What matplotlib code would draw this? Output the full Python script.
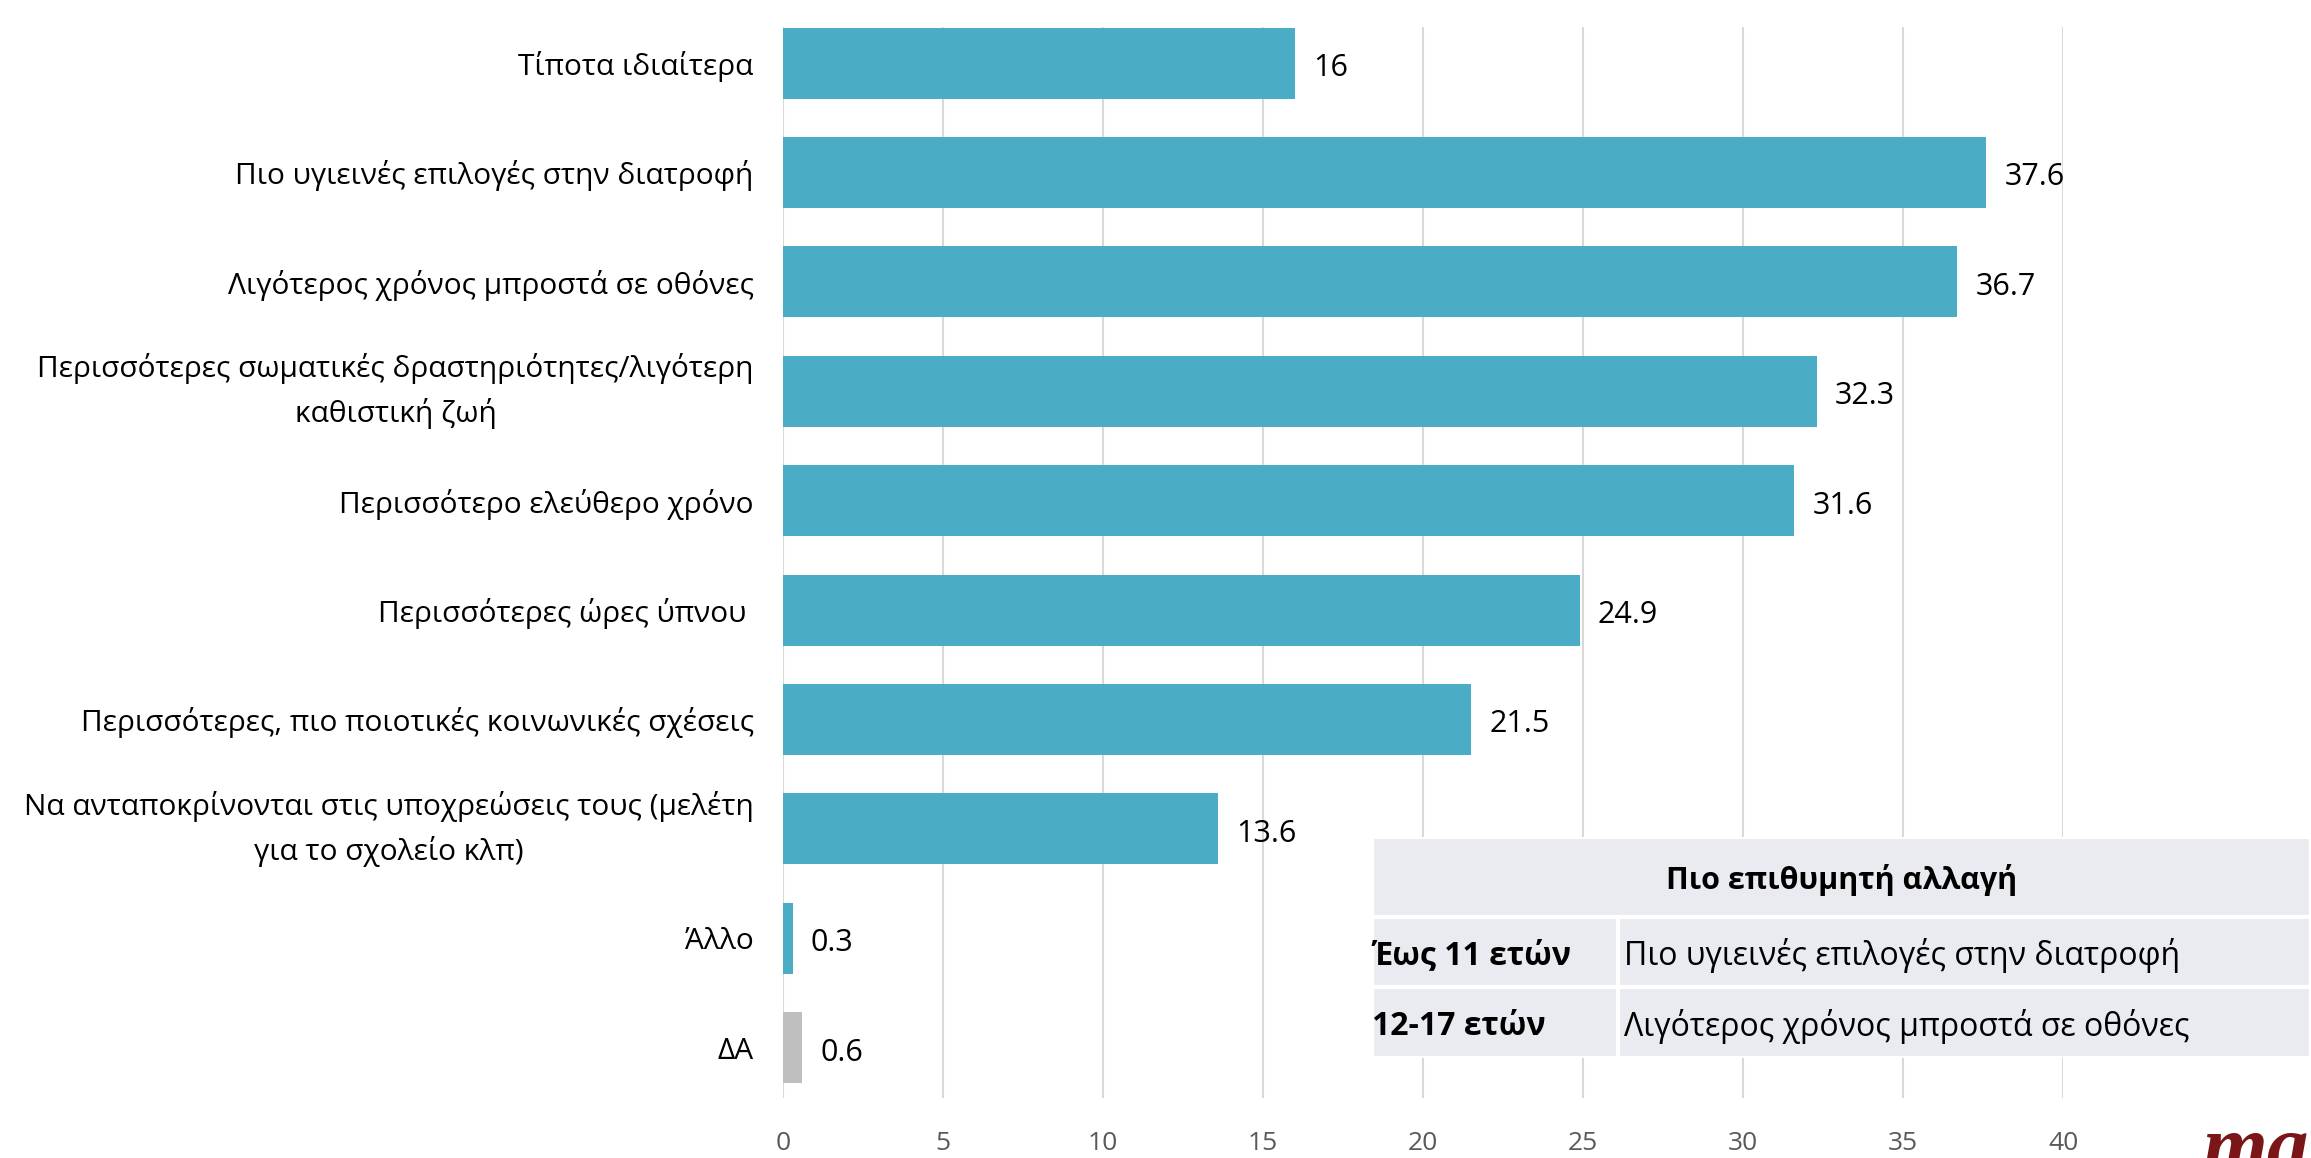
import matplotlib.pyplot as plt
from matplotlib.patches import Rectangle

plt.rcParams['font.family'] = ['Open Sans', 'DejaVu Sans']

categories = [
    'Τίποτα ιδιαίτερα',
    'Πιο υγιεινές επιλογές στην διατροφή',
    'Λιγότερος χρόνος μπροστά σε οθόνες',
    'Περισσότερες σωματικές δραστηριότητες/λιγότερη\nκαθιστική ζωή',
    'Περισσότερο ελεύθερο χρόνο',
    'Περισσότερες ώρες ύπνου ',
    'Περισσότερες, πιο ποιοτικές κοινωνικές σχέσεις',
    'Να ανταποκρίνονται στις υποχρεώσεις τους (μελέτη\nγια το σχολείο κλπ)',
    'Άλλο',
    'ΔΑ',
]
values = [16, 37.6, 36.7, 32.3, 31.6, 24.9, 21.5, 13.6, 0.3, 0.6]
bar_colors = ['#4BACC6'] * 9 + ['#BFBFBF']

table_header = 'Πιο επιθυμητή αλλαγή'
table_groups = ['Έως 11 ετών', '12-17 ετών']
table_answers = ['Πιο υγιεινές επιλογές στην διατροφή',
                 'Λιγότερος χρόνος μπροστά σε οθόνες']

fig = plt.figure(figsize=(23.11, 11.58), dpi=100)
ax = fig.add_axes([0.3388, 0.0518, 0.5539, 0.9249])

ypos = list(range(len(categories)))
ax.barh(ypos, values, height=0.65, color=bar_colors, zorder=2)
for i, v in enumerate(values):
    ax.annotate(f'{v:g}', (v, i), xytext=(13, -1), textcoords='offset points',
                va='center_baseline', ha='left', fontsize=22, color='black')

ax.set_xlim(0, 40)
ax.set_ylim(9.46, -0.33)
ax.set_xticks(range(0, 41, 5))
ax.set_yticks(ypos)
ax.set_yticklabels(categories, fontsize=21.5, linespacing=1.6)
for lab in ax.get_yticklabels():
    lab.set_multialignment('center')
    if '\n' in lab.get_text():
        lab.set_verticalalignment('center')
ax.tick_params(axis='y', length=0, pad=21)
ax.tick_params(axis='x', length=0, pad=24, labelsize=19, labelcolor='#595959')
ax.xaxis.grid(True, color='#D9D9D9', linewidth=1.5)
ax.set_axisbelow(True)
for s in ax.spines.values():
    s.set_visible(False)

# summary box in the lower right
tab = fig.add_axes([0.5937, 0.0864, 0.4063, 0.1908])
tab.set_xlim(0, 1)
tab.set_ylim(0, 1)
tab.axis('off')
fill = '#E9EBF1'
head_h = 0.36
row_h = (1 - head_h) / 2
col = 0.262
tab.add_patch(Rectangle((0, 1 - head_h), 1, head_h, facecolor=fill,
                        edgecolor='white', linewidth=3))
tab.text(0.5, 1 - head_h / 2, table_header, ha='center', va='center_baseline',
         fontsize=22, fontweight='bold')
for r, (grp, ans) in enumerate(zip(table_groups, table_answers)):
    y0 = 1 - head_h - (r + 1) * row_h
    tab.add_patch(Rectangle((0, y0), col, row_h, facecolor=fill,
                            edgecolor='white', linewidth=3))
    tab.add_patch(Rectangle((col, y0), 1 - col, row_h, facecolor=fill,
                            edgecolor='white', linewidth=3))
    tab.text(0.0, y0 + row_h / 2, grp, ha='left', va='center_baseline',
             fontsize=23, fontweight='bold')
    tab.text(col + 0.006, y0 + row_h / 2, ans, ha='left', va='center_baseline',
             fontsize=23)

# brand mark, cut by the figure edge
fig.text(0.953, -0.012, 'ma', ha='left', va='baseline', fontsize=60,
         family='Liberation Serif', fontweight='bold', style='italic',
         color='#7A1518')

fig.savefig('out.png', dpi=100)
